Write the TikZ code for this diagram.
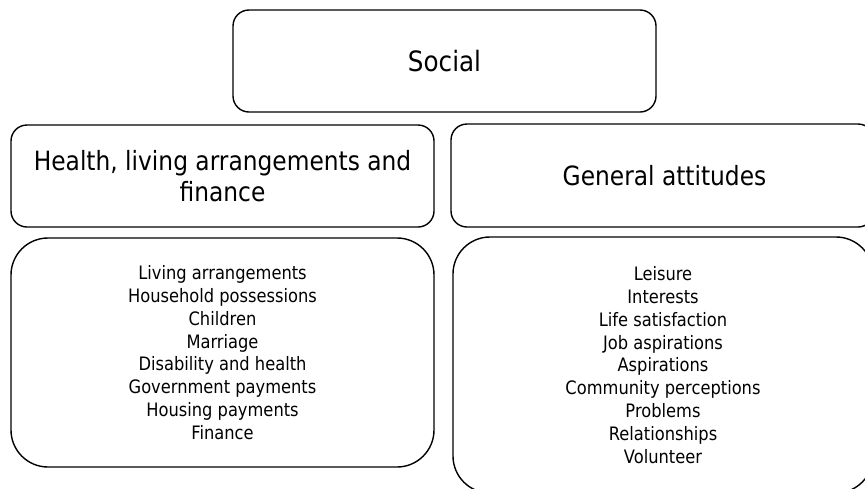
\documentclass[tikz,border=0pt]{standalone}
\usepackage{fontspec}
\setmainfont{DejaVu Sans}[FakeStretch=0.88]
\begin{document}
\begin{tikzpicture}[x=1pt,y=-1pt,
  hbox/.style={draw=black, line width=1.4pt, rounded corners=16pt, align=center, inner sep=0pt},
  lbox/.style={draw=black, line width=1.4pt, rounded corners=37pt, align=center, inner sep=0pt},
  listtext/.style={font=\fontsize{18.5}{22.8}\selectfont},
  headtext/.style={font=\fontsize{26.5}{30.5}\selectfont}]
\useasboundingbox (0,0) rectangle (865,488);
\node[hbox, minimum width=423pt, minimum height=102pt, font=\fontsize{28}{30}\selectfont] (social) at (444.5,61) {Social};
\node[hbox, headtext, minimum width=423pt, minimum height=102pt] (health) at (222.5,176) {\raisebox{-2pt}{\parbox{423pt}{\centering Health, living arrangements and\\finance}}};
\node[hbox, headtext, minimum width=423pt, minimum height=103pt] (general) at (662.5,175.5) {\hspace{4pt}General attitudes};
\node[lbox, listtext, minimum width=423pt, minimum height=229pt] (left) at (222.5,352.5) {Living arrangements\\Household possessions\\Children\\Marriage\\Disability and health\\Government payments\\Housing payments\\Finance};
\node[lbox, listtext, minimum width=420pt, minimum height=256pt] (right) at (663,365) {Leisure\\Interests\\Life satisfaction\\Job aspirations\\Aspirations\\Community perceptions\\Problems\\Relationships\\Volunteer};
\end{tikzpicture}
\end{document}
